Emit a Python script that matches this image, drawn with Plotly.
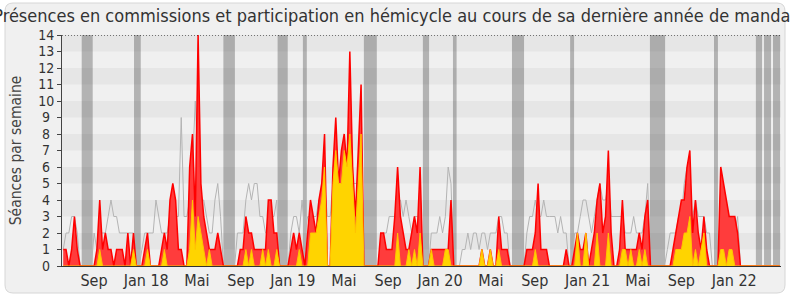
import plotly.graph_objects as go

# ---------------- data (one value per week) ----------------
weeks = list(range(256))

presences_commission = [
    1, 1, 0, 1, 3, 1, 0, 0, 0, 0,
    0, 0, 1, 4, 1, 2, 1, 1, 0, 1,
    1, 1, 0, 2, 0, 2, 0, 0, 0, 1,
    2, 0, 0, 0, 0, 1, 2, 1, 4, 5,
    4, 1, 1, 0, 0, 6, 8, 3, 14, 5,
    3, 2, 1, 1, 1, 2, 1, 0, 0, 0,
    0, 0, 0, 1, 1, 3, 2, 2, 1, 1,
    1, 1, 1, 4, 4, 2, 2, 0, 0, 0,
    0, 1, 2, 1, 2, 1, 0, 2, 4, 3,
    2, 4, 5, 8, 0, 0, 6, 9, 5, 7,
    8, 6, 13, 6, 3, 7, 11, 0, 0, 0,
    0, 0, 0, 2, 2, 1, 1, 1, 3, 6,
    3, 2, 1, 1, 2, 3, 2, 6, 0, 0,
    0, 1, 1, 1, 1, 1, 1, 1, 4, 0,
    0, 0, 0, 0, 0, 0, 0, 0, 0, 1,
    0, 0, 1, 0, 0, 3, 1, 1, 1, 0,
    0, 0, 0, 0, 0, 1, 1, 1, 2, 5,
    1, 1, 1, 0, 0, 0, 0, 0, 0, 1,
    0, 0, 1, 2, 1, 1, 2, 0, 1, 2,
    4, 5, 2, 3, 7, 2, 0, 0, 1, 4,
    1, 1, 1, 1, 1, 2, 1, 3, 4, 0,
    0, 0, 0, 0, 0, 0, 0, 1, 2, 3,
    4, 4, 6, 7, 2, 4, 2, 1, 3, 1,
    0, 0, 0, 0, 6, 5, 4, 3, 3, 3,
    2, 0, 0, 0, 0, 0, 0, 0, 0, 0,
    0, 0, 0, 0, 0, 0,
]

participation_hemicycle = [
    0, 0, 0, 0, 0, 0, 0, 0, 0, 0,
    0, 0, 0, 1, 0, 0, 0, 0, 0, 0,
    0, 0, 0, 0, 0, 1, 0, 0, 0, 0,
    1, 0, 0, 0, 0, 0, 1, 0, 0, 0,
    0, 0, 0, 0, 0, 1, 4, 1, 3, 2,
    1, 0, 1, 0, 0, 0, 0, 0, 0, 0,
    0, 0, 0, 0, 0, 1, 0, 1, 0, 0,
    0, 1, 0, 1, 0, 0, 1, 0, 0, 0,
    0, 0, 0, 0, 1, 0, 0, 0, 2, 2,
    2, 3, 4, 6, 0, 0, 5, 7, 5, 5,
    7, 6, 8, 5, 2, 5, 8, 0, 0, 0,
    0, 0, 0, 0, 0, 0, 0, 0, 0, 2,
    0, 0, 0, 1, 0, 1, 0, 2, 0, 0,
    0, 1, 0, 0, 0, 0, 1, 1, 0, 0,
    0, 0, 0, 0, 0, 0, 0, 0, 0, 1,
    0, 0, 1, 0, 0, 1, 0, 0, 0, 0,
    0, 0, 0, 0, 0, 0, 0, 0, 1, 0,
    0, 0, 0, 0, 0, 0, 0, 0, 0, 0,
    0, 0, 0, 2, 0, 0, 2, 0, 0, 0,
    2, 0, 0, 0, 2, 0, 0, 0, 0, 1,
    1, 0, 1, 0, 0, 1, 0, 1, 0, 0,
    0, 0, 0, 0, 0, 0, 0, 0, 1, 1,
    1, 2, 2, 3, 0, 1, 0, 1, 2, 0,
    0, 0, 0, 0, 1, 1, 0, 1, 1, 0,
    0, 0, 0, 0, 0, 0, 0, 0, 0, 0,
    0, 0, 0, 0, 0, 0,
]

mediane_deputes = [
    1, 2, 2, 3, 3, 2, 0, 0, 0, 0,
    0, 2, 1, 2, 2, 2, 3, 4, 3, 3,
    2, 2, 2, 2, 2, 2, 0, 0, 1, 2,
    2, 2, 2, 4, 3, 2, 2, 2, 3, 3,
    3, 3, 9, 3, 3, 4, 6, 10, 6, 4,
    4, 3, 2, 2, 4, 5, 3, 0, 0, 0,
    0, 0, 2, 2, 2, 4, 5, 4, 5, 5,
    3, 3, 2, 2, 3, 3, 4, 0, 0, 0,
    0, 2, 3, 3, 2, 4, 2, 3, 3, 3,
    3, 4, 4, 5, 3, 3, 5, 5, 5, 5,
    5, 5, 5, 5, 5, 5, 5, 0, 0, 0,
    0, 0, 0, 1, 2, 2, 3, 3, 3, 4,
    4, 3, 4, 3, 2, 3, 3, 3, 0, 0,
    0, 2, 2, 2, 3, 2, 3, 6, 5, 0,
    0, 0, 1, 1, 2, 1, 2, 2, 1, 2,
    2, 1, 2, 2, 2, 3, 3, 2, 2, 0,
    0, 0, 0, 0, 0, 2, 3, 3, 4, 3,
    3, 4, 3, 3, 3, 3, 2, 3, 2, 2,
    0, 0, 2, 2, 3, 4, 4, 3, 2, 3,
    4, 5, 4, 4, 5, 3, 3, 3, 3, 3,
    2, 2, 2, 3, 2, 2, 2, 3, 5, 0,
    0, 0, 0, 0, 0, 1, 2, 2, 2, 3,
    3, 5, 6, 4, 3, 4, 3, 3, 3, 2,
    2, 0, 0, 0, 4, 3, 3, 3, 2, 2,
    3, 0, 0, 0, 0, 0, 0, 0, 0, 0,
    0, 0, 0, 0, 0, 0,
]

# parliamentary breaks (start week, end week)
vacances_debut = [6.58, 25.2, 57.0, 76.3, 85.3, 107.0, 128.0, 138.7, 159.7, 180.4, 208.8, 231.6, 246.5, 249.4, 252.6]
vacances_fin = [10.5, 27.6, 61.1, 79.9, 86.7, 111.6, 130.2, 140.0, 164.0, 181.8, 214.2, 233.0, 248.7, 251.9, 255.1]

tick_weeks = [10.96, 29.53, 47.6, 63.2, 81.7, 99.9, 115.6, 134.1, 152.2, 167.8, 186.6, 204.5, 220.0, 238.8]
tick_labels = ["Sep", "Jan 18", "Mai", "Sep", "Jan 19", "Mai", "Sep", "Jan 20",
               "Mai", "Sep", "Jan 21", "Mai", "Sep", "Jan 22"]

y_ticks = list(range(0, 15))

# ---------------- figure ----------------
FONT = "DejaVu Sans Condensed, DejaVu Sans, sans-serif"
W, H = 790, 300
ML, MR, MT, MB = 62, 9, 35, 34
x_range = [-0.43, 255.44]

fig = go.Figure()

fig.add_trace(go.Scatter(
    x=weeks, y=mediane_deputes, mode="lines",
    line=dict(color="#b4b4b4", width=1), hoverinfo="skip", showlegend=False))

fig.add_trace(go.Scatter(
    x=weeks, y=presences_commission, mode="lines", fill="tozeroy",
    fillcolor="#ff3c3c", line=dict(color="#ff0000", width=1.5),
    hoverinfo="skip", showlegend=False))

fig.add_trace(go.Scatter(
    x=weeks, y=participation_hemicycle, mode="lines", fill="tozeroy",
    fillcolor="#ffd400", line=dict(color="#ffc400", width=1),
    hoverinfo="skip", showlegend=False))

shapes = []

# outer rounded frame (paper coordinates)
pw, ph = W - ML - MR, H - MT - MB
def px2x(p):
    return (p - ML) / pw
def py2y(p):
    return (H - MB - p) / ph
x0f, x1f = px2x(5), px2x(785)
y0f, y1f = py2y(293), py2y(3)
rx, ry = 8 / pw, 8 / ph
path = (f"M {x0f+rx},{y1f} L {x1f-rx},{y1f} Q {x1f},{y1f} {x1f},{y1f-ry} "
        f"L {x1f},{y0f+ry} Q {x1f},{y0f} {x1f-rx},{y0f} "
        f"L {x0f+rx},{y0f} Q {x0f},{y0f} {x0f},{y0f+ry} "
        f"L {x0f},{y1f-ry} Q {x0f},{y1f} {x0f+rx},{y1f} Z")
shapes.append(dict(type="path", path=path, xref="paper", yref="paper",
                   fillcolor="#f0f0f0", line=dict(color="#d6d6d6", width=1),
                   layer="below"))

# horizontal stripes
for k in range(1, 14, 2):
    shapes.append(dict(type="rect", xref="x", yref="y",
                       x0=x_range[0], x1=x_range[1], y0=k, y1=k + 1,
                       fillcolor="#e6e6e6", line=dict(width=0), layer="below"))

# break bands
for a, b in zip(vacances_debut, vacances_fin):
    shapes.append(dict(type="rect", xref="x", yref="y",
                       x0=a, x1=b, y0=0, y1=14,
                       fillcolor="rgba(40,40,40,0.3)", line=dict(width=0),
                       layer="below"))

# dotted top line
shapes.append(dict(type="line", xref="x", yref="y",
                   x0=x_range[0], x1=x_range[1], y0=14, y1=14,
                   line=dict(color="#000000", width=1, dash="1px,2px")))

fig.update_layout(
    width=W, height=H,
    margin=dict(l=ML, r=MR, t=MT, b=MB, pad=0),
    paper_bgcolor="#ffffff",
    plot_bgcolor="#fbfbfb",
    font=dict(family=FONT, color="#333333", size=16),
    title=dict(text="Présences en commissions et participation en hémicycle au cours de sa dernière année de mandat",
               x=0.5, xref="container", xanchor="center",
               y=1 - 16 / H, yref="container", yanchor="middle",
               font=dict(family=FONT, size=18, color="#333333")),
    shapes=shapes,
    xaxis=dict(range=x_range, tickmode="array", tickvals=tick_weeks, ticktext=tick_labels,
               showgrid=False, zeroline=False, showline=True, linecolor="#333333",
               linewidth=1, ticks="", tickfont=dict(family=FONT, size=16, color="#333333")),
    yaxis=dict(range=[0, 14], tickmode="array", tickvals=y_ticks,
               ticktext=[(f"{v}\u2004" if v < 10 else str(v)) for v in y_ticks],
               showgrid=False, zeroline=False, showline=True, linecolor="#444444",
               linewidth=1, ticks="outside", ticklen=4, tickcolor="#444444",
               tickfont=dict(family=FONT, size=14, color="#333333"),
               title=dict(text="Séances par semaine", standoff=12,
                          font=dict(family=FONT, size=15.5, color="#444444"))),
)

fig.write_html("out.html")
